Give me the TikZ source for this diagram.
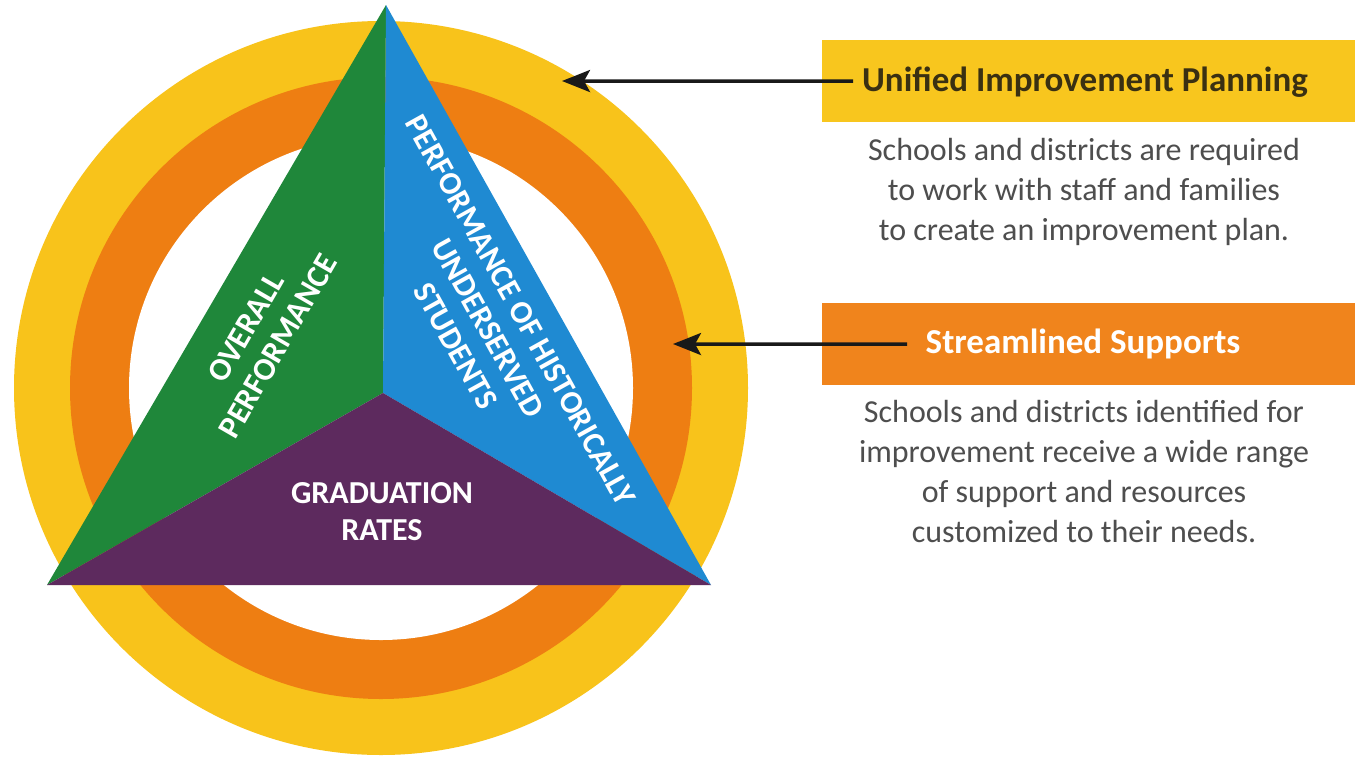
\documentclass[tikz,border=0pt]{standalone}
\usepackage{fontspec}
\setmainfont{Carlito}
\usetikzlibrary{arrows.meta}
\definecolor{ringY}{HTML}{F8C31B}
\definecolor{ringO}{HTML}{EE7E12}
\definecolor{boxY}{HTML}{F8C61E}
\definecolor{boxO}{HTML}{F0841C}
\definecolor{triG}{HTML}{1F873A}
\definecolor{triB}{HTML}{1F8AD2}
\definecolor{triP}{HTML}{5D2A5E}
\definecolor{hdrDark}{HTML}{3A3012}
\definecolor{bodyGray}{HTML}{4E4E4E}
\tikzset{
  tritext/.style={text=white, align=center, inner sep=0pt, font=\fontsize{32}{37}\selectfont\bfseries},
  hdr/.style={inner sep=0pt, font=\fontsize{35}{40}\selectfont\bfseries},
  bodytext/.style={text=bodyGray, align=center, inner sep=0pt, font=\fontsize{32}{40}\selectfont},
  box/.style={anchor=north west, inner sep=0pt, minimum width=533pt, minimum height=82pt},
  arr/.style={line width=3.5pt, draw=black!90, -{Stealth[length=28pt,width=22pt,inset=6pt]}}
}
\begin{document}
\begin{tikzpicture}[x=1pt,y=-1pt]
\useasboundingbox (0,0) rectangle (1355,764);
\fill[white] (0,0) rectangle (1355,764);
% rings
\coordinate (ctr) at (381,388);
\fill[ringY] (ctr) circle (367pt);
\fill[ringO] (ctr) circle (311pt);
\fill[white] (ctr) circle (252pt);
% triangle
\coordinate (A) at (386,5);
\coordinate (B) at (47,585);
\coordinate (C) at (711,585);
\coordinate (O) at (383,393);
\fill[triG] (A) -- (B) -- (O) -- cycle;
\fill[triB] (A) -- (O) -- (C) -- cycle;
\fill[triP] (B) -- (C) -- (O) -- cycle;
\node[tritext, rotate=60] (ov) at (262,337) {OVERALL\\PERFORMANCE};
\node[tritext, rotate=-61] (ph) at (488,328) {PERFORMANCE OF HISTORICALLY\\UNDERSERVED\\STUDENTS};
\node[tritext] (gr) at (382,512) {GRADUATION\\RATES};
% boxes
\node[box, fill=boxY] (ybox) at (822,40) {};
\node[hdr, text=hdrDark] (uiph) at (1085,82) {Unified Improvement Planning};
\node[bodytext] (uipb) at (1084,192) {Schools and districts are required\\to work with staff and families\\to create an improvement plan.};
\node[box, fill=boxO] (obox) at (822,303) {};
\node[hdr, text=white] (ssh) at (1083,344) {Streamlined Supports};
\node[bodytext] (ssb) at (1084,472) {Schools and districts identified for\\improvement receive a wide range\\of support and resources\\customized to their needs.};
% arrows
\coordinate (t1) at (562,81);
\coordinate (t2) at (673,344);
\draw[arr] ([xshift=31pt]ybox.west) -- (t1);
\draw[arr] ([xshift=85pt]obox.west) -- (t2);
\end{tikzpicture}
\end{document}
